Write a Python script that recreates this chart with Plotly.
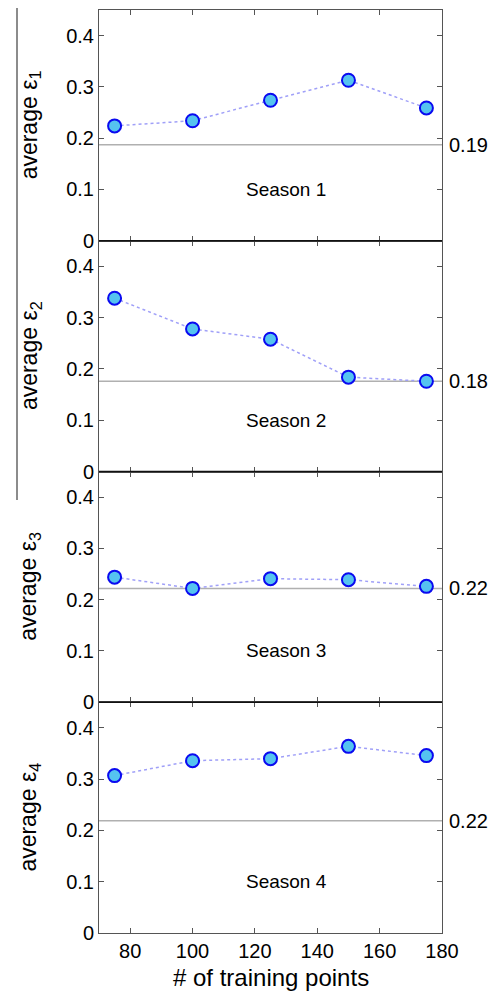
import plotly.graph_objects as go
from plotly.subplots import make_subplots

x_points = [75, 100, 125, 150, 175]
season1 = [0.224, 0.234, 0.274, 0.313, 0.259]
season2 = [0.338, 0.278, 0.258, 0.184, 0.176]
season3 = [0.244, 0.222, 0.241, 0.239, 0.226]
season4 = [0.307, 0.336, 0.340, 0.364, 0.346]
series = [season1, season2, season3, season4]
baselines = [0.187, 0.176, 0.222, 0.219]
baseline_labels = ["0.19", "0.18", "0.22", "0.22"]
season_names = ["Season 1", "Season 2", "Season 3", "Season 4"]
y_titles = ["average ε<sub>1</sub>", "average ε<sub>2</sub>",
            "average ε<sub>3</sub>", "average ε<sub>4</sub>"]
x_ticks = [80, 100, 120, 140, 160, 180]
y_ticks = [0, 0.1, 0.2, 0.3, 0.4]
y_tick_labels = ["0", "0.1", "0.2", "0.3", "0.4"]

FONT = "Arial, Liberation Sans, sans-serif"
W, H = 492, 991
ML, MR, MT, MB = 99, 50, 10, 58
PW = W - ML - MR
PH = H - MT - MB

fig = make_subplots(rows=4, cols=1, shared_xaxes=False, vertical_spacing=0)

for i, vals in enumerate(series):
    r = i + 1
    fig.add_trace(go.Scatter(
        x=[70, 180], y=[baselines[i]] * 2, mode="lines",
        line=dict(color="#b0b0b0", width=1.5), showlegend=False, hoverinfo="skip"),
        row=r, col=1)
    fig.add_trace(go.Scatter(
        x=x_points, y=vals, mode="lines+markers",
        line=dict(color="#a0a0f8", width=1.5, dash="dot"),
        marker=dict(size=13, color="#55c3f0", line=dict(color="#0a0af0", width=2)),
        showlegend=False), row=r, col=1)
    fig.update_xaxes(range=[70, 180], tickvals=x_ticks,
                     showticklabels=(r == 4), ticks="inside", ticklen=5,
                     tickcolor="#555", showline=True, linecolor="#555", linewidth=1,
                     mirror="ticks", showgrid=False, zeroline=False,
                     tickfont=dict(family=FONT, size=20, color="black"),
                     row=r, col=1)
    fig.update_yaxes(range=[0, 0.45], tickvals=y_ticks, ticktext=y_tick_labels,
                     ticks="inside", ticklen=5, tickcolor="#555",
                     showline=True, linecolor="#555", linewidth=1, mirror="ticks",
                     showgrid=False, zeroline=False,
                     tickfont=dict(family=FONT, size=20, color="black"),
                     row=r, col=1)
    yref = "y" if r == 1 else f"y{r}"
    xref = "x" if r == 1 else f"x{r}"
    fig.add_annotation(x=130, y=0.1, xref=xref, yref=yref, text=season_names[i],
                       showarrow=False, font=dict(family=FONT, size=19, color="black"))
    fig.add_annotation(x=1.015, y=baselines[i], xref="paper", yref=yref,
                       text=baseline_labels[i], showarrow=False, xanchor="left",
                       font=dict(family=FONT, size=20, color="black"))
    fig.add_annotation(x=(30 - ML) / PW, y=0.225, xref="paper", yref=yref,
                       text=y_titles[i], showarrow=False, textangle=-90,
                       xanchor="center", yanchor="middle",
                       font=dict(family=FONT, size=23, color="black"))

for k in range(1, 4):
    yp = k / 4
    fig.add_shape(type="line", xref="paper", yref="paper", x0=0, x1=1, y0=yp, y1=yp,
                  line=dict(color="#111", width=1.5))

fig.add_shape(type="line", xref="paper", yref="paper",
              x0=(17 - ML) / PW, x1=(17 - ML) / PW,
              y0=(H - MB - 500) / PH, y1=(H - MB - 8) / PH,
              line=dict(color="#666", width=1.5))

fig.add_annotation(x=0.5, y=(H - MB - 977) / PH, xref="paper", yref="paper",
                   text="# of training points", showarrow=False,
                   yanchor="middle", font=dict(family=FONT, size=24, color="black"))

fig.update_layout(width=W, height=H, margin=dict(l=ML, r=MR, t=MT, b=MB),
                  plot_bgcolor="white", paper_bgcolor="white",
                  font=dict(family=FONT, color="black"))

fig.write_html("out.html")
